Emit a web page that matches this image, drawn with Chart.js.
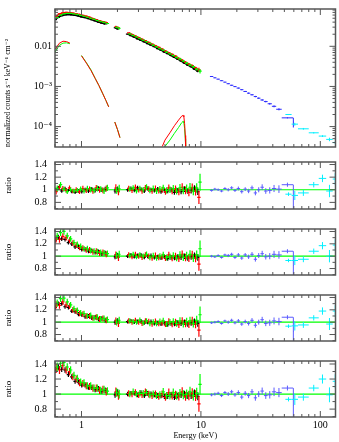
<!DOCTYPE html>
<html><head><meta charset="utf-8">
<script src="https://cdn.jsdelivr.net/npm/chart.js@4.4.0/dist/chart.umd.min.js"></script>
<style>
html,body{margin:0;padding:0;background:#fff;width:339px;height:442px;overflow:hidden;position:relative}
canvas{position:absolute;left:0}
</style></head><body>
<script>
// ---------- axis settings / tick labels ----------
const xMin = 0.6, xMax = 134;
const topMin = 3.1e-5, topMax = 0.085;
const ratioMin = 0.695, ratioMax = 1.44;
const xTickValues = [1, 10, 100];
const xTickLabels = ['1', '10', '100'];
const topTickValues = [0.01, 0.001, 0.0001];
const topTickLabels = ['0.01', '10⁻³', '10⁻⁴'];
const ratioTickValues = [0.8, 1, 1.2, 1.4];
const ratioTickLabels = ['0.8', '1', '1.2', '1.4'];

// ---------- soft X-ray spectra (keV) ----------
const pnE = [0.605,0.640,0.683,0.728,0.777,0.829,0.884,0.943,1.005,1.072,1.144,1.220,1.301,1.388,1.480,1.579, 1.91,2.01, 2.432,2.594,2.767,2.951,3.148,3.357,3.581,3.819,4.074,4.345,4.634,4.943,5.272,5.623,5.998,6.397,6.823,7.278,7.762,8.279,8.831,9.419];
const m1E = [0.613,0.654,0.698,0.744,0.794,0.847,0.903,0.963,1.027,1.096,1.169,1.247,1.330,1.418,1.512,1.613, 1.94,2.04, 2.485,2.650,2.827,3.015,3.216,3.430,3.659,3.902,4.162,4.439,4.735,5.050,5.386,5.745,6.128,6.536,6.971,7.436,7.931,8.459,9.022,9.623];
const m2E = [0.626,0.668,0.713,0.760,0.811,0.865,0.923,0.984,1.050,1.120,1.194,1.274,1.358,1.449,1.545,1.648, 1.97,2.07, 2.539,2.708,2.888,3.081,3.286,3.504,3.738,3.987,4.253,4.536,4.837,5.160,5.503,5.870,6.261,6.678,7.123,7.597,8.103,8.643,9.218,9.832];

const pnFlux = [0.046,0.053,0.058,0.061,0.062,0.061,0.059,0.057,0.054,0.052,0.049,0.046,0.043,0.040,0.038,0.036, 0.029,0.027, 0.0202,0.0185,0.0169,0.0154,0.0141,0.0129,0.0117,0.0107,0.0098,0.0088,0.0080,0.0072,0.0066,0.0059,0.0053,0.0048,0.0043,0.0038,0.0034,0.0031,0.0027,0.0024];
const m1Flux = [0.056,0.064,0.068,0.070,0.069,0.067,0.064,0.062,0.059,0.056,0.053,0.049,0.046,0.043,0.041,0.039, 0.031,0.029, 0.0215,0.0197,0.0180,0.0165,0.0150,0.0137,0.0125,0.0113,0.0103,0.0094,0.0085,0.0076,0.0069,0.0063,0.0057,0.0050,0.0045,0.0040,0.0036,0.0033,0.0029,0.0026];
const m2Flux = [0.052,0.060,0.064,0.066,0.066,0.064,0.062,0.059,0.056,0.053,0.050,0.047,0.044,0.0415,0.0395,0.037, 0.0297,0.028, 0.0204,0.0187,0.0171,0.0156,0.0142,0.0130,0.0118,0.0107,0.0097,0.0088,0.0080,0.0072,0.0065,0.0059,0.0053,0.0048,0.0043,0.0038,0.0034,0.0031,0.0027,0.0024];

const pnErr = [0.030,0.028,0.027,0.027,0.027,0.028,0.028,0.029,0.030,0.030,0.031,0.032,0.033,0.034,0.035,0.036, 0.040,0.042, 0.030,0.030,0.030,0.031,0.031,0.032,0.032,0.033,0.034,0.034,0.035,0.036,0.037,0.038,0.039,0.040,0.042,0.044,0.046,0.048,0.050,0.055];
const mosErr = [0.045,0.040,0.038,0.037,0.037,0.038,0.039,0.040,0.041,0.042,0.043,0.044,0.045,0.046,0.047,0.048, 0.055,0.058, 0.042,0.042,0.042,0.043,0.043,0.044,0.045,0.046,0.047,0.048,0.049,0.050,0.052,0.054,0.056,0.058,0.060,0.062,0.065,0.068,0.072,0.120];

// model components (top panel)
const softE = [0.6,0.65,0.7,0.75,0.8,0.9,1.0,1.1,1.2,1.3,1.4,1.5,1.6,1.69, 1.9,2.0,2.1];
const softRed = [0.0083,0.0118,0.0134,0.0131,0.0120,0.0090,0.0058,0.0038,0.0025,0.0016,0.00105,0.00068,0.00045,0.00031, 0.00013,0.000085,0.000053];
const softGreen = [0.0072,0.0105,0.0120,0.0122,0.0116,0.0090,0.0059,0.0039,0.0026,0.0016,0.00105,0.00068,0.00045,0.00031, 0.00013,0.000085,0.000053];
const feE = [4.75,5.0,5.5,6.0,6.5,6.9,7.1,7.2,7.3,7.4,7.45];
const feRed = [3.2e-5,4.6e-5,7.0e-5,1.05e-4,1.45e-4,1.82e-4,1.9e-4,1.75e-4,1.2e-4,6e-5,3.2e-5];
const feGreen = [2.3e-5,3.2e-5,4.6e-5,6.8e-5,9.5e-5,1.25e-4,1.35e-4,1.25e-4,9e-5,5e-5,3.2e-5];

// ---------- hard X-ray spectra ----------
const blueEdges = [11.9,12.7,13.5,14.4,15.4,16.4,17.5,18.7,19.9,21.3,22.7,24.3,25.9,27.7,29.5,31.5,33.7,36.2,39.3,42.7,47.5,59.2,59.7];
const blueFlux = [1.77e-3,1.64e-3,1.52e-3,1.39e-3,1.28e-3,1.17e-3,1.07e-3,9.9e-4,9.1e-4,8.3e-4,7.5e-4,6.8e-4,6.2e-4,5.6e-4,5.1e-4,4.6e-4,4.2e-4,3.7e-4,3.2e-4,2.7e-4,1.65e-4,1.3e-4];
const blueErr = [0.02,0.02,0.02,0.02,0.02,0.025,0.025,0.025,0.03,0.03,0.03,0.035,0.035,0.04,0.04,0.045,0.045,0.05,0.055,0.06,0.03,0.27];
const cyanEdges = [51,57.5,65,80,97,112,127,140];
const cyanFlux = [2.0e-4,1.15e-4,8.8e-5,7.0e-5,5.8e-5,4.8e-5,4.0e-5];
const cyanErr = [0.03,0.08,0.05,0.04,0.05,0.10,0.08];

// ---------- ratios, panel 1..4 ----------
const p1pn = [1.00,1.03,0.98,1.02,0.99,0.97,0.96,0.98,0.97,1.00,0.98,1.01,0.99,1.02,1.00,1.01, 0.98,1.01, 1.00,1.02,0.99,1.03,1.01,0.98,1.02,1.00,0.99,1.01,0.97,0.99,0.98,1.00,0.96,0.99,0.97,1.01,0.98,0.99,1.02,0.97];
const p1m1 = [0.97,1.04,1.02,0.99,1.03,0.98,1.00,0.97,1.02,0.99,1.01,0.98,1.03,1.00,0.99,1.02, 1.03,0.97, 1.02,0.99,1.04,1.00,0.98,1.03,1.01,0.98,1.02,0.99,1.00,0.97,1.03,0.98,1.01,0.97,1.04,0.99,0.96,1.03,0.98,0.88];
const p1m2 = [1.02,1.08,1.01,0.97,1.00,0.98,0.99,1.01,0.98,1.02,1.00,0.99,1.02,1.01,0.98,1.03, 0.99,1.02, 1.01,1.03,0.98,1.02,1.00,1.04,0.99,1.02,0.98,1.01,1.03,0.99,1.00,1.02,0.98,1.03,0.99,1.02,1.04,0.98,1.03,1.12];
const p1blue = [0.99,1.01,1.00,0.98,1.02,1.00,1.03,0.99,1.02,0.97,1.01,0.98,1.03,0.95,1.00,1.04,0.98,0.99,1.02,1.01,1.08,0.85];
const p1cyan = [0.93,0.91,0.95,1.08,1.18,0.98,1.17];

const p2pn = [1.26,1.31,1.28,1.27,1.22,1.20,1.15,1.15,1.11,1.11,1.08,1.09,1.06,1.07,1.04,1.05, 0.99,1.01, 1.00,1.02,0.99,1.01,1.02,0.98,1.00,1.01,0.98,0.99,0.97,0.99,0.96,0.98,0.97,0.99,0.98,1.00,0.97,0.99,1.01,0.98];
const p2m1 = [1.28,1.27,1.32,1.30,1.26,1.21,1.18,1.14,1.13,1.10,1.10,1.07,1.08,1.05,1.06,1.03, 1.02,0.98, 1.02,0.99,1.03,1.00,0.98,1.02,1.00,0.97,1.01,0.98,0.99,0.97,1.02,0.97,1.00,0.96,1.03,0.98,0.97,1.02,0.97,0.87];
const p2m2 = [1.32,1.38,1.40,1.33,1.28,1.22,1.19,1.16,1.12,1.12,1.09,1.08,1.07,1.06,1.05,1.04, 1.01,1.03, 1.01,1.03,0.99,1.02,1.00,1.03,0.98,1.01,0.97,1.00,1.02,0.98,0.99,1.01,0.97,1.02,0.98,1.01,1.03,0.97,1.02,1.12];
const p2blue = [1.00,0.99,1.01,0.98,1.02,1.01,1.03,0.98,1.02,0.97,1.02,0.99,1.03,0.95,1.01,1.04,0.99,1.00,1.03,1.02,1.08,0.85];
const p2cyan = [0.93,0.93,0.95,1.08,1.17,1.00,1.18];

const p3pn = [1.24,1.30,1.30,1.25,1.24,1.18,1.17,1.13,1.12,1.09,1.10,1.07,1.08,1.05,1.06,1.03, 1.00,1.02, 1.01,1.02,1.00,1.01,1.02,0.99,1.00,1.01,0.98,0.99,0.97,0.98,0.96,0.98,0.97,0.99,0.98,1.00,0.97,0.99,1.01,0.98];
const p3m1 = [1.28,1.27,1.33,1.28,1.26,1.20,1.18,1.14,1.13,1.10,1.10,1.07,1.08,1.05,1.06,1.03, 1.02,0.98, 1.02,1.00,1.03,1.00,0.98,1.02,1.01,0.97,1.01,0.98,0.99,0.97,1.01,0.97,1.00,0.96,1.02,0.98,0.97,1.02,0.97,0.87];
const p3m2 = [1.31,1.38,1.39,1.33,1.28,1.22,1.19,1.15,1.14,1.10,1.11,1.07,1.08,1.05,1.06,1.04, 1.00,1.03, 1.02,1.01,1.00,1.03,0.99,1.02,0.98,1.00,0.98,1.01,1.02,0.97,1.00,1.01,0.98,1.02,0.97,1.01,1.02,0.98,1.03,1.12];
const p3blue = [0.99,1.00,1.01,0.98,1.02,1.00,1.03,0.99,1.02,0.97,1.01,0.98,1.03,0.95,1.00,1.04,0.98,0.99,1.02,1.01,1.08,0.85];
const p3cyan = [0.935,0.94,0.955,1.07,1.18,0.97,1.18];

const p4pn = [1.32,1.36,1.33,1.32,1.26,1.23,1.17,1.16,1.12,1.12,1.09,1.09,1.06,1.07,1.04,1.05, 0.99,1.02, 1.00,1.01,1.01,0.99,1.02,0.98,1.01,1.00,0.99,0.98,0.98,0.97,0.97,0.99,0.96,0.98,0.99,1.00,0.98,0.98,1.01,0.97];
const p4m1 = [1.34,1.32,1.38,1.32,1.30,1.23,1.20,1.15,1.14,1.11,1.10,1.08,1.08,1.05,1.06,1.03, 1.03,0.98, 1.01,1.00,1.02,0.99,0.99,1.03,1.00,0.98,1.00,0.97,1.00,0.96,1.02,0.98,0.99,0.97,1.03,0.97,0.98,1.01,0.98,0.87];
const p4m2 = [1.36,1.41,1.42,1.36,1.32,1.25,1.21,1.16,1.15,1.11,1.11,1.08,1.08,1.05,1.06,1.04, 1.02,1.00, 1.00,1.03,1.00,1.01,1.01,1.02,0.99,1.00,0.98,0.99,1.03,0.98,0.98,1.02,0.98,1.01,0.99,1.00,1.03,0.98,1.01,1.13];
const p4blue = [0.99,1.00,1.01,0.98,1.02,1.00,1.03,0.99,1.02,0.96,1.01,0.98,1.03,0.95,1.00,1.04,0.98,0.99,1.03,1.02,1.08,0.85];
const p4cyan = [0.93,0.93,0.96,1.08,1.20,0.99,1.17];

// ---------- styling ----------
const COL = {black:'#000000', red:'#ff0000', green:'#00ff00', blue:'#2a2aff', blueLight:'#5a5aff', cyan:'#00f0ff', frame:'#555555', text:'#000000'};
Chart.defaults.font.family = "'Liberation Serif', 'DejaVu Serif', serif";
Chart.defaults.color = COL.text;

const GAP = 1.1;
function binFactors(E) {
  return E.map((e, i) => {
    const rn = i < E.length - 1 ? E[i + 1] / e : null;
    const rp = i > 0 ? e / E[i - 1] : null;
    let r;
    if (rn && rn < GAP) r = rn; else if (rp && rp < GAP) r = rp; else r = rn || rp;
    return Math.sqrt(r);
  });
}
const gapSegment = { borderColor: c => (c.p1.parsed.x / c.p0.parsed.x > GAP ? 'rgba(0,0,0,0)' : undefined) };

function crossSet(E, Y, frac, color, line) {
  const f = binFactors(E);
  return {
    data: E.map((e, i) => ({x: e, y: Y[i]})),
    errBars: E.map((e, i) => ({xlo: e / f[i], xhi: e * f[i], ylo: Y[i] * (1 - frac[i]), yhi: Y[i] * (1 + frac[i])})),
    errColor: color, errWidth: 1.2,
    showLine: !!line, borderColor: color, borderWidth: line || 0, pointRadius: 0, segment: gapSegment
  };
}
function binSet(edges, Y, frac, color) {
  return {
    data: Y.map((v, i) => ({x: Math.sqrt(edges[i] * edges[i + 1]), y: v})),
    errBars: Y.map((v, i) => ({xlo: edges[i], xhi: edges[i + 1], ylo: v * (1 - frac[i]), yhi: v * (1 + frac[i])})),
    errColor: color, errWidth: 1, showLine: false, pointRadius: 0
  };
}
function curveSet(E, Y, color) {
  return {data: E.map((e, i) => ({x: e, y: Y[i]})), showLine: true, borderColor: color, borderWidth: 1, pointRadius: 0, segment: gapSegment};
}
function unitySet() {
  return {data: [{x: xMin, y: 1}, {x: xMax, y: 1}], showLine: true, borderColor: COL.green, borderWidth: 1.2, pointRadius: 0};
}

const errorBarPlugin = {
  id: 'errbars',
  afterDatasetsDraw(chart) {
    const {ctx, chartArea: a, scales: {x, y}} = chart;
    ctx.save();
    ctx.beginPath(); ctx.rect(a.left, a.top, a.right - a.left, a.bottom - a.top); ctx.clip();
    chart.data.datasets.forEach(ds => {
      if (!ds.errBars) return;
      ctx.strokeStyle = ds.errColor; ctx.lineWidth = ds.errWidth;
      ctx.beginPath();
      ds.errBars.forEach((b, i) => {
        const px = x.getPixelForValue(ds.data[i].x), py = y.getPixelForValue(ds.data[i].y);
        ctx.moveTo(x.getPixelForValue(b.xlo), py); ctx.lineTo(x.getPixelForValue(b.xhi), py);
        ctx.moveTo(px, y.getPixelForValue(b.ylo)); ctx.lineTo(px, y.getPixelForValue(b.yhi));
      });
      ctx.stroke();
    });
    ctx.restore();
  }
};

const framePlugin = {
  id: 'frame',
  afterDraw(chart, args, opts) {
    const {ctx, chartArea: a, scales: {x, y}} = chart;
    ctx.save();
    ctx.strokeStyle = COL.frame; ctx.lineWidth = 1;
    ctx.beginPath();
    [0.1, 1, 10, 100].forEach(d => { for (let m = 1; m <= 9; m++) {
      const v = m * d; if (v < x.min || v > x.max) continue;
      const px = x.getPixelForValue(v), L = m === 1 ? 6 : 3;
      ctx.moveTo(px, a.top); ctx.lineTo(px, a.top + L);
      ctx.moveTo(px, a.bottom); ctx.lineTo(px, a.bottom - L);
    }});
    if (opts.log) {
      [1e-5, 1e-4, 1e-3, 1e-2].forEach(d => { for (let m = 1; m <= 9; m++) {
        const v = m * d; if (v < y.min || v > y.max) continue;
        const py = y.getPixelForValue(v), L = m === 1 ? 6 : 3;
        ctx.moveTo(a.left, py); ctx.lineTo(a.left + L, py);
        ctx.moveTo(a.right, py); ctx.lineTo(a.right - L, py);
      }});
    } else {
      for (let k = 7; k <= 14; k++) {
        const v = k / 10, py = y.getPixelForValue(v), L = k % 2 === 0 ? 6 : 3;
        ctx.moveTo(a.left, py); ctx.lineTo(a.left + L, py);
        ctx.moveTo(a.right, py); ctx.lineTo(a.right - L, py);
      }
    }
    ctx.stroke();
    ctx.lineWidth = 1.5;
    ctx.strokeRect(a.left, a.top, a.right - a.left, a.bottom - a.top);
    ctx.restore();
  }
};

function makeChart(top, height, pad, ycfg, datasets, showX) {
  const cv = document.createElement('canvas');
  cv.width = 339; cv.height = height; cv.style.top = top + 'px';
  cv.style.width = '339px'; cv.style.height = height + 'px';
  document.body.appendChild(cv);
  return new Chart(cv, {
    type: 'scatter',
    data: {datasets},
    options: {
      responsive: false, animation: false, devicePixelRatio: 1,
      layout: {padding: {left: 0, right: 3.5, top: pad[0], bottom: pad[1]}},
      plugins: {legend: {display: false}, tooltip: {enabled: false}, frame: {log: ycfg.log}},
      scales: {
        x: {
          type: 'logarithmic', min: xMin, max: xMax, display: showX,
          grid: {display: false, drawTicks: false}, border: {display: false},
          afterBuildTicks: s => { s.ticks = xTickValues.map(v => ({value: v})); },
          ticks: {autoSkip: false, maxRotation: 0, padding: 2, font: {size: 10}, callback: (v, i) => xTickLabels[i]},
          title: {display: showX, text: 'Energy (keV)', font: {size: 8}, padding: {top: 0, bottom: 1}},
          afterFit: s => { s.height = showX ? 25 : 0; }
        },
        y: {
          type: ycfg.log ? 'logarithmic' : 'linear', min: ycfg.min, max: ycfg.max,
          grid: {display: false, drawTicks: false}, border: {display: false},
          afterBuildTicks: s => { s.ticks = ycfg.ticks.map(v => ({value: v})); },
          ticks: {autoSkip: false, padding: ycfg.pad, font: {size: 10}, callback: (v, i) => ycfg.labels[i]},
          title: {display: true, text: ycfg.title, align: ycfg.align, font: {size: ycfg.titleSize}, padding: {top: 3, bottom: 0}},
          afterFit: s => { s.width = 55; }
        }
      }
    },
    plugins: [errorBarPlugin, framePlugin]
  });
}

// ---------- top panel ----------
makeChart(0, 156, [3, 4],
  {log: true, min: topMin, max: topMax, ticks: topTickValues, labels: topTickLabels, pad: 3,
   title: 'normalized counts s⁻¹ keV⁻¹ cm⁻²', align: 'start', titleSize: 7.8},
  [
    curveSet(softE, softRed, COL.red),
    curveSet(softE, softGreen, COL.green),
    curveSet(feE, feRed, COL.red),
    curveSet(feE, feGreen, COL.green),
    crossSet(pnE, pnFlux, pnErr, COL.black, 1.5),
    crossSet(m1E, m1Flux, mosErr, COL.red, 1.5),
    crossSet(m2E, m2Flux, mosErr, COL.green, 1.5),
    binSet(blueEdges, blueFlux, blueErr, COL.blue),
    binSet(cyanEdges, cyanFlux, cyanErr, COL.cyan)
  ], false);

// ---------- ratio panels ----------
const ratioCfg = {log: false, min: ratioMin, max: ratioMax, ticks: ratioTickValues, labels: ratioTickLabels, pad: 8, title: 'ratio', align: 'center', titleSize: 9};
function ratioSets(pn, m1, m2, blue, cyan) {
  return [
    unitySet(),
    crossSet(pnE, pn, pnErr, COL.black),
    crossSet(m1E, m1, mosErr, COL.red),
    crossSet(m2E, m2, mosErr, COL.green),
    binSet(blueEdges, blue, blueErr, COL.blueLight),
    binSet(cyanEdges, cyan, cyanErr, COL.cyan)
  ];
}
makeChart(148, 75, [4, 4], ratioCfg, ratioSets(p1pn, p1m1, p1m2, p1blue, p1cyan), false);
makeChart(215, 74, [4, 4], ratioCfg, ratioSets(p2pn, p2m1, p2m2, p2blue, p2cyan), false);
makeChart(281, 74, [4, 4], ratioCfg, ratioSets(p3pn, p3m1, p3m2, p3blue, p3cyan), false);
makeChart(347, 95, [4, 0], ratioCfg, ratioSets(p4pn, p4m1, p4m2, p4blue, p4cyan), true);
</script>
</body></html>
